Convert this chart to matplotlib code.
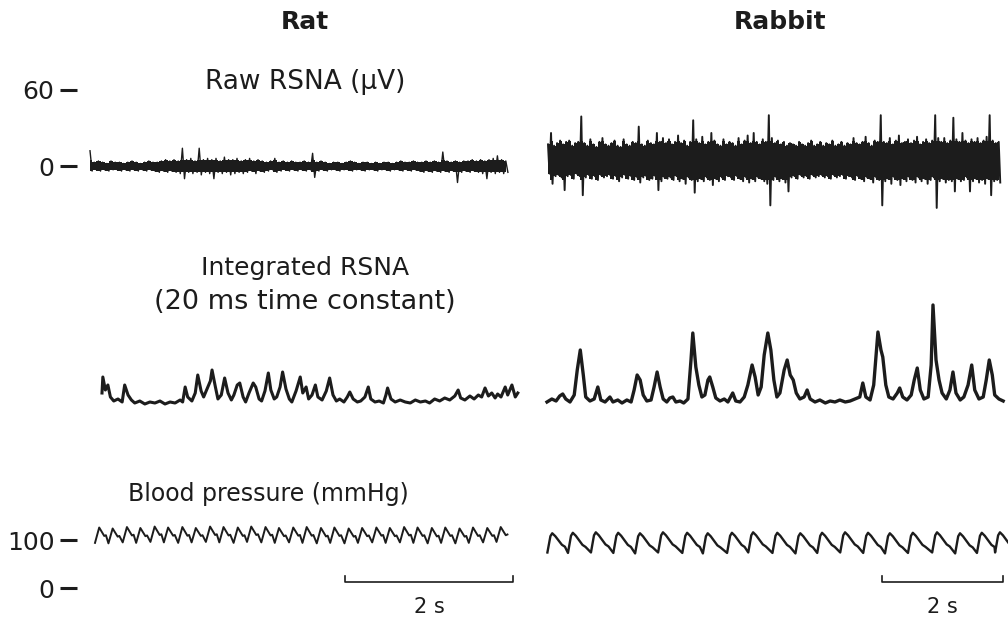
import matplotlib.pyplot as plt
import numpy as np

W, H = 1008, 627
INK = '#1c1c1c'

# ---- raw RSNA envelopes (uV), 0.05 s bins ----
bin_s = 0.05
rat_raw_hi = [12, 3, 4, 3, 2, 4, 3, 3, 2, 3,
              4, 3, 2, 3, 4, 3, 3, 4, 5, 4,
              5, 4, 14, 5, 6, 4, 14, 5, 6, 5,
              6, 4, 7, 5, 5, 6, 4, 5, 6, 4,
              5, 4, 3, 4, 6, 3, 4, 3, 4, 3,
              3, 4, 3, 10, 3, 4, 3, 2, 3, 3,
              2, 3, 4, 3, 2, 3, 3, 2, 3, 2,
              3, 3, 2, 3, 4, 3, 3, 4, 3, 3,
              4, 3, 4, 3, 11, 4, 3, 4, 3, 4,
              4, 5, 4, 5, 4, 5, 6, 8, 5, 4]
rat_raw_lo = [-4, -3, -4, -3, -4, -3, -3, -4, -3, -4,
              -3, -4, -3, -4, -3, -4, -5, -4, -5, -4,
              -5, -6, -10, -5, -6, -5, -7, -5, -6, -10,
              -5, -6, -5, -7, -6, -5, -6, -5, -4, -6,
              -4, -5, -4, -3, -5, -4, -3, -4, -3, -4,
              -3, -4, -3, -9, -4, -3, -4, -3, -3, -4,
              -3, -3, -4, -3, -3, -4, -3, -3, -4, -3,
              -3, -4, -3, -3, -4, -3, -4, -3, -4, -5,
              -4, -5, -4, -5, -4, -5, -4, -13, -5, -4,
              -5, -4, -5, -6, -10, -5, -6, -5, -6, -5]

rab_raw_hi = [17, 26, 16, 18, 20, 17, 19, 20, 16, 18,
              19, 39, 18, 16, 21, 17, 15, 19, 22, 17,
              16, 18, 20, 16, 15, 21, 17, 16, 19, 18,
              31, 17, 16, 20, 18, 17, 26, 19, 22, 18,
              21, 17, 19, 24, 18, 20, 16, 19, 36, 21,
              18, 23, 17, 19, 26, 20, 17, 16, 21, 17,
              19, 18, 16, 22, 17, 20, 24, 18, 26, 19,
              17, 21, 19, 40, 22, 18, 20, 17, 19, 16,
              18, 17, 16, 19, 17, 16, 18, 20, 16, 17,
              19, 16, 18, 17, 20, 16, 17, 19, 16, 18,
              17, 22, 18, 17, 19, 23, 18, 16, 20, 19,
              40, 19, 18, 22, 17, 20, 24, 18, 19, 21,
              18, 20, 23, 17, 19, 21, 18, 20, 40, 22,
              19, 22, 18, 20, 38, 21, 19, 26, 20, 18,
              21, 19, 22, 18, 20, 23, 40, 20, 18, 19]
rab_raw_lo = [-6, -14, -8, -7, -9, -19, -8, -7, -10, -6,
              -8, -23, -9, -7, -10, -8, -11, -7, -9, -8,
              -7, -10, -8, -12, -9, -7, -10, -8, -11, -9,
              -13, -9, -8, -11, -10, -8, -19, -12, -9, -10,
              -9, -11, -8, -12, -10, -14, -9, -11, -21, -12,
              -10, -12, -9, -11, -15, -10, -12, -9, -11, -8,
              -9, -11, -8, -10, -12, -9, -13, -10, -12, -9,
              -10, -12, -14, -31, -11, -9, -12, -10, -13, -20,
              -9, -8, -10, -7, -9, -8, -10, -7, -9, -8,
              -7, -9, -8, -10, -7, -9, -8, -7, -10, -8,
              -9, -11, -8, -10, -12, -9, -10, -13, -9, -11,
              -31, -12, -10, -14, -9, -11, -15, -10, -12, -9,
              -11, -13, -9, -12, -10, -14, -11, -9, -33, -12,
              -10, -13, -11, -12, -20, -10, -12, -11, -9, -20,
              -12, -10, -13, -11, -14, -10, -23, -12, -11, -13]

# ---- integrated RSNA (a.u.), vertices: time (s), value ----
rat_int_t = [0.00, 0.01, 0.04, 0.07, 0.10, 0.14, 0.19, 0.24, 0.27, 0.31,
             0.35, 0.39, 0.45, 0.51, 0.57, 0.63, 0.69, 0.75, 0.81, 0.87,
             0.93, 0.96, 0.99, 1.02, 1.07, 1.11, 1.14, 1.18, 1.21, 1.25,
             1.29, 1.31, 1.35, 1.38, 1.42, 1.46, 1.50, 1.54, 1.57, 1.61,
             1.64, 1.68, 1.71, 1.75, 1.80, 1.83, 1.87, 1.90, 1.94, 1.98,
             2.01, 2.05, 2.08, 2.12, 2.15, 2.19, 2.23, 2.26, 2.31, 2.36,
             2.39, 2.43, 2.46, 2.50, 2.54, 2.57, 2.62, 2.67, 2.71, 2.75,
             2.79, 2.83, 2.88, 2.92, 2.95, 2.99, 3.04, 3.08, 3.13, 3.17,
             3.20, 3.25, 3.30, 3.35, 3.38, 3.40, 3.44, 3.49, 3.55, 3.61,
             3.67, 3.73, 3.79, 3.85, 3.90, 3.96, 4.02, 4.08, 4.14, 4.20,
             4.24, 4.27, 4.32, 4.38, 4.43, 4.48, 4.52, 4.56, 4.60, 4.64,
             4.68, 4.71, 4.75, 4.80, 4.83, 4.88, 4.92, 4.95]
rat_int_v = [12, 28, 15, 20, 8, 4, 6, 3, 20, 10,
             5, 2, 4, 1, 3, 2, 4, 1, 3, 2,
             5, 3, 18, 8, 4, 12, 30, 14, 8, 16,
             24, 35, 18, 6, 10, 27, 12, 5, 10, 20,
             22, 8, 3, 12, 22, 18, 6, 4, 14, 32,
             15, 6, 8, 18, 33, 16, 6, 3, 14, 28,
             12, 18, 6, 10, 20, 8, 5, 14, 27, 10,
             4, 6, 3, 8, 13, 6, 3, 4, 8, 18,
             6, 3, 4, 2, 10, 17, 6, 3, 5, 3,
             2, 5, 3, 4, 2, 6, 4, 7, 5, 9,
             15, 7, 5, 9, 6, 10, 8, 17, 9, 12,
             7, 11, 8, 18, 10, 20, 8, 12]

rab_int_t = [0.00, 0.08, 0.15, 0.21, 0.26, 0.31, 0.38, 0.45, 0.50, 0.55,
             0.60, 0.64, 0.71, 0.78, 0.84, 0.89, 0.96, 1.04, 1.09, 1.17,
             1.24, 1.32, 1.39, 1.44, 1.49, 1.54, 1.59, 1.65, 1.72, 1.77,
             1.82, 1.87, 1.92, 1.98, 2.03, 2.08, 2.13, 2.20, 2.26, 2.33,
             2.38, 2.41, 2.46, 2.51, 2.56, 2.61, 2.66, 2.69, 2.74, 2.79,
             2.86, 2.93, 2.99, 3.07, 3.12, 3.19, 3.26, 3.32, 3.39, 3.44,
             3.49, 3.54, 3.59, 3.65, 3.70, 3.75, 3.80, 3.85, 3.92, 3.97,
             4.02, 4.07, 4.12, 4.18, 4.25, 4.30, 4.35, 4.43, 4.51, 4.60,
             4.68, 4.76, 4.84, 4.93, 5.01, 5.09, 5.17, 5.22, 5.27, 5.34,
             5.40, 5.44, 5.47, 5.52, 5.55, 5.60, 5.65, 5.72, 5.79, 5.83,
             5.88, 5.95, 6.02, 6.07, 6.12, 6.17, 6.23, 6.30, 6.35, 6.38,
             6.43, 6.48, 6.53, 6.60, 6.66, 6.71, 6.76, 6.83, 6.89, 6.96,
             7.02, 7.07, 7.14, 7.21, 7.26, 7.31, 7.36, 7.40, 7.47, 7.54]
rab_int_v = [3, 6, 4, 9, 11, 6, 3, 10, 35, 55,
             30, 8, 4, 6, 18, 5, 3, 8, 3, 5,
             2, 5, 3, 15, 30, 25, 10, 4, 5, 18,
             33, 18, 6, 3, 7, 8, 3, 4, 2, 6,
             45, 72, 38, 20, 8, 10, 25, 28, 18, 7,
             4, 6, 3, 12, 4, 3, 8, 20, 40, 28,
             10, 18, 50, 72, 55, 25, 8, 12, 35, 45,
             30, 25, 12, 6, 8, 15, 6, 3, 5, 2,
             4, 3, 5, 3, 4, 6, 8, 22, 8, 5,
             20, 50, 73, 55, 48, 20, 8, 6, 12, 17,
             8, 5, 10, 25, 37, 15, 6, 8, 40, 100,
             45, 25, 12, 6, 15, 33, 12, 5, 8, 20,
             40, 15, 6, 8, 25, 45, 30, 10, 6, 4]

# ---- blood pressure (mmHg): beat peak times (s), systolic, diastolic ----
rat_bp_peak = [0.05, 0.21, 0.38, 0.54, 0.71, 0.87, 1.04, 1.20, 1.37, 1.53,
               1.70, 1.86, 2.03, 2.19, 2.36, 2.52, 2.69, 2.85, 3.02, 3.18,
               3.35, 3.51, 3.68, 3.84, 4.01, 4.17, 4.34, 4.50, 4.67, 4.83]
rat_bp_sys = [126, 124, 127, 125, 128, 126, 127, 125, 128, 127,
              126, 128, 127, 125, 126, 127, 125, 126, 124, 125,
              126, 125, 127, 126, 125, 126, 124, 126, 125, 127]
rat_bp_dia = [94, 93, 95, 94, 96, 95, 94, 95, 96, 95,
              94, 96, 95, 94, 95, 94, 93, 94, 93, 94,
              95, 94, 95, 94, 93, 94, 93, 94, 95, 96]

rab_bp_peak = [0.07, 0.41, 0.79, 1.16, 1.52, 1.90, 2.30, 2.64, 3.04, 3.39,
               3.79, 4.17, 4.53, 4.91, 5.29, 5.65, 6.03, 6.43, 6.81, 7.17, 7.47]
rab_bp_sys = [114, 115, 116, 115, 114, 116, 115, 114, 115, 116,
              115, 114, 115, 116, 115, 114, 115, 116, 114, 115, 116]
rab_bp_dia = [74, 73, 74, 73, 72, 74, 73, 72, 73, 74,
              73, 72, 73, 74, 73, 72, 73, 74, 72, 73, 74]

scale_bar_s = 2

# pulse shape per beat: (offset from peak in s, fraction between dia and sys)
rat_pulse = [(-0.05, 0.0), (0.0, 1.0), (0.06, 0.45), (0.08, 0.5)]
rab_pulse = [(-0.08, 0.0), (-0.03, 0.85), (0.0, 1.0), (0.05, 0.85),
             (0.16, 0.4), (0.21, 0.3)]


def px_axes(fig, left, top, right, bottom, x0, sx, y0, sy):
    """axes over a pixel box; t=0 at pixel x0 (sx px/s), value 0 at pixel y0 (sy px/unit)"""
    ax = fig.add_axes([left / W, 1 - bottom / H, (right - left) / W, (bottom - top) / H])
    ax.set_xlim((left - x0) / sx, (right - x0) / sx)
    ax.set_ylim((y0 - bottom) / sy, (y0 - top) / sy)
    ax.patch.set_visible(False)
    for s in ax.spines.values():
        s.set_visible(False)
    ax.set_xticks([])
    ax.set_yticks([])
    return ax


def raw_trace(ax, hi, lo, core, lw):
    # solid core band (spikes excluded) plus a zigzag through the full envelope
    t = np.arange(len(hi)) * bin_s
    ax.fill_between(t, np.maximum(lo, core[0]), np.minimum(hi, core[1]),
                    step='mid', color=INK, lw=0)
    tt = np.column_stack([t, t + bin_s / 2]).ravel()
    vv = np.column_stack([hi, lo]).ravel()
    ax.plot(tt, vv, color=INK, lw=lw)


def bp_wave(peaks, sys, dia, shape):
    tt, vv = [], []
    for p, s, d in zip(peaks, sys, dia):
        for dt, f in shape:
            tt.append(p + dt)
            vv.append(d + f * (s - d))
    return tt, vv


def mm_ticks(ax, ticks):
    ax.set_yticks(ticks)
    ax.set_yticklabels([str(v) for v in ticks])
    ax.tick_params(axis='y', direction='in', length=12, width=2.2,
                   pad=4, labelsize=18, colors=INK)


def time_bar(ax, end):
    ax.plot([end - scale_bar_s, end - scale_bar_s, end, end],
            [25, 12, 12, 25], color=INK, lw=1.2)
    ax.text(end - scale_bar_s / 2, -40, f'{scale_bar_s} s', ha='center',
            va='center', fontsize=15, color=INK)


fig = plt.figure(figsize=(W / 100, H / 100), dpi=100)

# raw RSNA
ax = px_axes(fig, 60, 50, 525, 220, 90, 84, 166, 1.27)
raw_trace(ax, rat_raw_hi, rat_raw_lo, (-5, 5), 1.0)
mm_ticks(ax, [0, 60])

ax = px_axes(fig, 540, 50, 1008, 225, 548, 60.5, 166, 1.27)
raw_trace(ax, rab_raw_hi, rab_raw_lo, (-11, 20), 1.4)

# integrated RSNA
ax = px_axes(fig, 90, 290, 525, 425, 102, 84, 405, 1.0)
ax.plot(rat_int_t, rat_int_v, color=INK, lw=2.2)

ax = px_axes(fig, 540, 290, 1008, 425, 547, 60.5, 405, 1.0)
ax.plot(rab_int_t, rab_int_v, color=INK, lw=2.4)

# blood pressure + time scale bars
ax = px_axes(fig, 60, 510, 525, 627, 95, 84, 588, 0.48)
ax.plot(*bp_wave(rat_bp_peak, rat_bp_sys, rat_bp_dia, rat_pulse), color=INK, lw=1.4)
mm_ticks(ax, [0, 100])
time_bar(ax, 4.98)

ax = px_axes(fig, 540, 510, 1008, 627, 548, 60.5, 588, 0.48)
ax.plot(*bp_wave(rab_bp_peak, rab_bp_sys, rab_bp_dia, rab_pulse), color=INK, lw=1.7)
time_bar(ax, 7.52)


# labels
def label(x, y, s, **kw):
    fig.text(x / W, 1 - y / H, s, ha='center', va='center', color=INK, **kw)


label(305, 22, 'Rat', fontsize=18, fontweight='bold')
label(780, 22, 'Rabbit', fontsize=18, fontweight='bold')
label(305, 82, 'Raw RSNA (\u03bcV)', fontsize=19)
label(305, 268, 'Integrated RSNA', fontsize=18)
label(305, 302, '(20 ms time constant)', fontsize=19.5)
label(268, 494, 'Blood pressure (mmHg)', fontsize=17)

fig.savefig('out.png', dpi=100)
